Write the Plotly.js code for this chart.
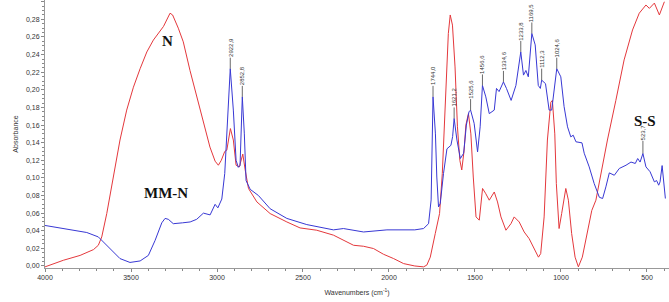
<!DOCTYPE html>
<html><head><meta charset="utf-8">
<script src="https://cdn.plot.ly/plotly-3.0.1.min.js"></script>
<style>html,body{margin:0;padding:0;background:#fff}#chart{width:669px;height:302px}</style>
</head><body><div id="chart"></div>
<script>
// MM-N (blue) spectrum
const mmnWn = [4000,3900,3757,3690,3622,3564,3506,3447,3399,3360,3321,3302,3283,3254,3200,3156,3118,3079,3040,3011,2995,2972,2955,2943,2922.9,2905,2889,2876,2866,2852.8,2841,2831,2807,2759,2691,2594,2478,2323,2265,2148,2012,1850,1799,1770,1755,1744,1730,1722,1712,1702,1683,1663,1640,1630,1621.2,1605,1585,1566,1550,1535,1525.6,1505,1485,1470,1456.6,1437,1417,1388,1375,1360,1334.6,1317,1290,1262,1243,1233.8,1218,1204,1190,1180,1169.5,1150,1132,1120,1112.3,1090,1069,1054,1040,1024.6,1001,982,962,943,929,913,878,865,836,807,777,758,739,719,690,661,622,593,568,554,540,523.7,506,482,457,444,432,424,412,404,393];
const mmnAbs = [0.046,0.043,0.038,0.033,0.020,0.0084,0.004,0.0057,0.012,0.029,0.049,0.054,0.053,0.048,0.049,0.050,0.053,0.060,0.058,0.070,0.066,0.076,0.105,0.150,0.224,0.177,0.120,0.112,0.114,0.192,0.150,0.097,0.087,0.080,0.065,0.054,0.047,0.041,0.0425,0.0386,0.041,0.041,0.0425,0.048,0.075,0.192,0.150,0.101,0.067,0.071,0.105,0.133,0.137,0.147,0.1675,0.143,0.122,0.128,0.160,0.175,0.177,0.162,0.1295,0.158,0.205,0.192,0.173,0.177,0.2016,0.198,0.209,0.2016,0.188,0.205,0.230,0.243,0.2167,0.222,0.2148,0.239,0.264,0.251,0.205,0.2016,0.211,0.207,0.177,0.177,0.203,0.224,0.2148,0.181,0.158,0.1466,0.1485,0.141,0.1398,0.128,0.1125,0.0936,0.078,0.0766,0.0898,0.1057,0.103,0.1107,0.1144,0.118,0.1164,0.122,0.118,0.1277,0.1125,0.107,0.0955,0.097,0.0917,0.0955,0.114,0.101,0.0766];

// N (red) spectrum
const nWn = [4000,3893,3796,3718,3690,3670,3641,3602,3564,3525,3486,3447,3408,3370,3341,3311,3273,3258,3225,3196,3157,3118,3079,3041,3011,2992,2975,2955,2943,2934,2922,2905,2889,2870,2850,2836,2817,2768,2691,2594,2517,2420,2323,2206,2148,2090,2032,1973,1915,1850,1799,1780,1760,1731,1706,1690,1670,1655,1644,1631,1616,1602,1588,1577,1563,1553,1538,1524,1510,1494,1475,1456,1437,1417,1388,1369,1349,1320,1291,1272,1243,1214,1185,1156,1131,1118,1098,1079,1059,1050,1036,1027,1011,996,972,957,938,918,899,876,846,821,797,768,730,681,633,584,545,506,486,457,428,399];
const nAbs = [-0.001,0.0065,0.012,0.0186,0.0235,0.033,0.0595,0.101,0.143,0.177,0.203,0.224,0.243,0.2565,0.264,0.272,0.287,0.285,0.270,0.2545,0.222,0.192,0.162,0.135,0.119,0.1144,0.120,0.130,0.1315,0.143,0.156,0.143,0.1144,0.1125,0.127,0.109,0.088,0.0727,0.0595,0.050,0.0432,0.0406,0.035,0.0235,0.0224,0.0198,0.0133,0.0084,0.0027,0.0,-0.001,0.001,0.010,0.0368,0.0595,0.105,0.196,0.264,0.285,0.2735,0.226,0.158,0.120,0.109,0.1315,0.160,0.173,0.150,0.101,0.0557,0.052,0.088,0.082,0.0747,0.084,0.0727,0.0557,0.0406,0.048,0.0557,0.050,0.0386,0.031,0.0198,0.010,0.014,0.0557,0.143,0.186,0.188,0.150,0.0936,0.0425,0.0595,0.088,0.0747,0.0368,0.010,-0.001,0.010,0.0368,0.063,0.0747,0.105,0.143,0.188,0.234,0.268,0.287,0.2963,0.2925,0.2985,0.285,0.300];

// Peak labels on MM-N
const peakWn = [2922.9,2852.8,1744,1621.2,1525.6,1456.6,1334.6,1233.8,1169.5,1112.3,1024.6,523.7];
const peakText = ["2922,9","2852,8","1744,0","1621,2","1525,6","1456,6","1334,6","1233,8","1169,5","1112,3","1024,6","523,7"];

// Curve names
const curveLabels = [{text:"N", wn:3290, y:0.255},{text:"MM-N", wn:3296, y:0.0826},{text:"S-S", wn:510, y:0.1644}];

const xTicks = [4000,3500,3000,2500,2000,1500,1000,500];

const annotations = [];
peakWn.forEach((w,i)=>{
  const idx = mmnWn.indexOf(w);
  annotations.push({x:w, y:mmnAbs[idx], xref:'x', yref:'y', text:peakText[i], textangle:-90,
    showarrow:true, arrowhead:0, arrowwidth:0.8, arrowcolor:'#444', ax:0, ay:-21,
    font:{family:'Liberation Sans, Arial', size:6, color:'#333'}, borderpad:0});
});
curveLabels.forEach(c=>{
  annotations.push({x:c.wn, y:c.y, xref:'x', yref:'y', text:'<b>'+c.text+'</b>', showarrow:false,
    font:{family:'Liberation Serif, Times New Roman, serif', size:15, color:'#111'}});
});

const traces = [
  {x:nWn, y:nAbs, type:'scatter', mode:'lines', line:{color:'#e4383c', width:1}, hoverinfo:'skip'},
  {x:mmnWn, y:mmnAbs, type:'scatter', mode:'lines', line:{color:'#3838d4', width:1}, hoverinfo:'skip'}
];

const tickFont = {family:'Liberation Sans, Arial', size:7, color:'#333'};
const layout = {
  width:669, height:302, showlegend:false, separators:', ',
  margin:{l:45, r:0, t:0, b:34},
  paper_bgcolor:'#fff', plot_bgcolor:'#fff',
  xaxis:{range:[4000,372], tickvals:xTicks, ticks:'outside', ticklen:3, tickcolor:'#888',
    minor:{dtick:100, ticks:'outside', ticklen:2, tickcolor:'#888'},
    showgrid:false, zeroline:false, showline:true, linecolor:'#999', linewidth:1,
    tickfont:tickFont, title:{text:'Wavenumbers (cm<sup>-1</sup>)', font:tickFont, standoff:9}},
  yaxis:{range:[-0.0023,0.302], dtick:0.02, tick0:0, tickformat:'.2f', ticks:'outside', ticklen:3, tickcolor:'#888',
    minor:{dtick:0.005, ticks:'outside', ticklen:2, tickcolor:'#888'},
    showgrid:false, zeroline:false, showline:true, linecolor:'#999', linewidth:1,
    tickfont:tickFont, title:{text:'Absorbance', font:tickFont, standoff:6}},
  annotations:annotations
};
Plotly.newPlot('chart', traces, layout, {staticPlot:true, displayModeBar:false});
</script></body></html>
